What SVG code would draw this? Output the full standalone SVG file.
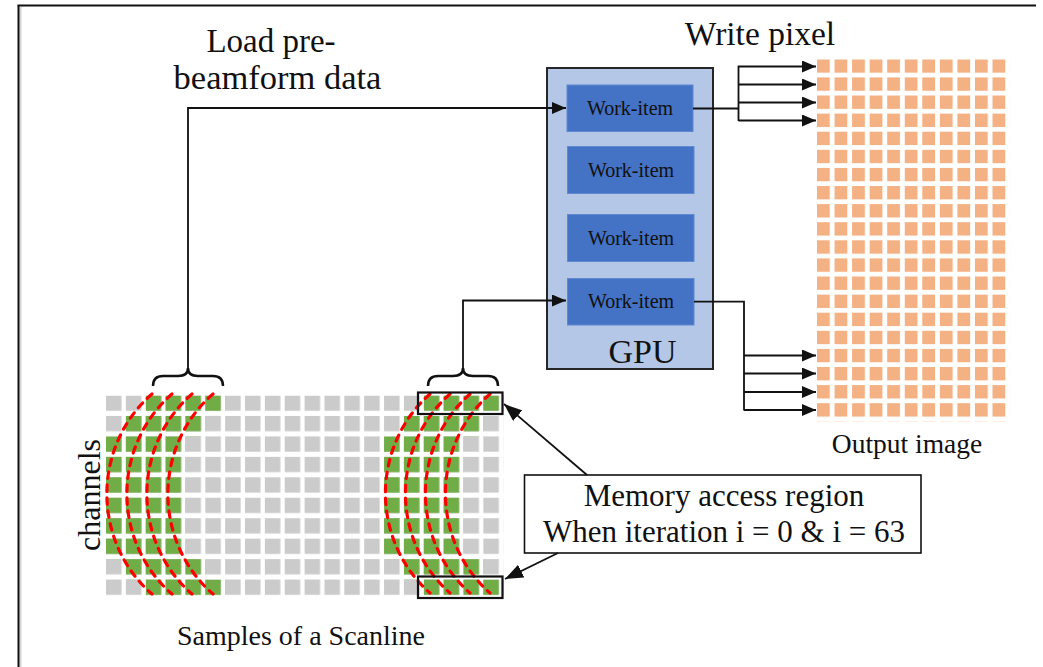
<svg xmlns="http://www.w3.org/2000/svg" width="1043" height="667" viewBox="0 0 1043 667">
  <style>
    .t { font-family: "Liberation Serif", "Times New Roman", serif; fill: #111; }
    .wi { fill: #4472c4; stroke: #5f88d0; stroke-width: 1; }
    .wl { font-family: "Liberation Serif", "Times New Roman", serif; font-size: 20px; fill: #111; text-anchor: middle; }
    .ln { fill: none; stroke: #111; stroke-width: 1.8; }
    .arc { fill: none; stroke: #ff0000; stroke-width: 3.2; stroke-dasharray: 6.5 6.5; stroke-linecap: round; }
    .brace { fill: none; stroke: #111; stroke-width: 2.5; }
    .box { fill: none; stroke: #111; stroke-width: 2.2; }
  </style>
  <defs>
    <!-- sample grid tiles -->
    <pattern id="cellGray" patternUnits="userSpaceOnUse" x="106" y="395.5" width="19.86" height="20.45">
      <rect x="0" y="0" width="15.5" height="15.3" fill="#cbcbcb"/>
    </pattern>
    <pattern id="cellGreen" patternUnits="userSpaceOnUse" x="106" y="395.5" width="19.86" height="20.45">
      <rect x="0" y="0" width="15.5" height="15.3" fill="#70ad47"/>
    </pattern>
    <!-- output image tiles -->
    <pattern id="cellOrange" patternUnits="userSpaceOnUse" x="817" y="59.3" width="17.55" height="18.1">
      <rect x="0" y="0" width="12.8" height="13.4" fill="#f4b183"/>
    </pattern>
    <marker id="arr" markerUnits="userSpaceOnUse" viewBox="0 0 14 12" markerWidth="14" markerHeight="12" refX="14" refY="6" orient="auto">
      <path d="M0,0 L14,6 L0,12 z" fill="#111"/>
    </marker>
    <marker id="arrBig" markerUnits="userSpaceOnUse" viewBox="0 0 18 14" markerWidth="18" markerHeight="14" refX="18" refY="7" orient="auto">
      <path d="M0,0 L18,7 L0,14 z" fill="#111"/>
    </marker>
  </defs>

  <rect width="1043" height="667" fill="#ffffff"/>

  <!-- frame -->
  <g id="frame">
    <line x1="20.5" y1="7" x2="20.5" y2="667" stroke="#d4d4d4" stroke-width="2"/>
    <line x1="18.5" y1="5.5" x2="18.5" y2="667" stroke="#111" stroke-width="2"/>
    <line x1="17.5" y1="5.5" x2="1036" y2="5.5" stroke="#111" stroke-width="2"/>
  </g>

  <!-- samples of a scanline -->
  <g id="samples">
    <rect x="106" y="395.5" width="397.2" height="204.5" fill="url(#cellGray)"/>
    <!-- first access window -->
    <rect x="145.72" y="395.5" width="79.44" height="20.45" fill="url(#cellGreen)"/>
    <rect x="125.86" y="415.95" width="79.44" height="20.45" fill="url(#cellGreen)"/>
    <rect x="106" y="436.4" width="79.44" height="122.7" fill="url(#cellGreen)"/>
    <rect x="125.86" y="559.1" width="79.44" height="20.45" fill="url(#cellGreen)"/>
    <rect x="145.72" y="579.55" width="79.44" height="20.45" fill="url(#cellGreen)"/>
    <!-- second access window -->
    <rect x="423.76" y="395.5" width="79.44" height="20.45" fill="url(#cellGreen)"/>
    <rect x="403.9" y="415.95" width="79.44" height="20.45" fill="url(#cellGreen)"/>
    <rect x="384.04" y="436.4" width="79.44" height="122.7" fill="url(#cellGreen)"/>
    <rect x="403.9" y="559.1" width="79.44" height="20.45" fill="url(#cellGreen)"/>
    <rect x="423.76" y="579.55" width="79.44" height="20.45" fill="url(#cellGreen)"/>
    <!-- delay curves -->
    <path class="arc" d="M152 394 A125 130 0 0 0 152 594"/>
    <path class="arc" d="M172 394 A125 130 0 0 0 172 594"/>
    <path class="arc" d="M192 394 A125 130 0 0 0 192 594"/>
    <path class="arc" d="M213 394 A125 130 0 0 0 213 594"/>
    <path class="arc" d="M430 394 A125 130 0 0 0 430 593"/>
    <path class="arc" d="M450 394 A125 130 0 0 0 450 593"/>
    <path class="arc" d="M470 394 A125 130 0 0 0 470 593"/>
    <path class="arc" d="M490 394 A125 130 0 0 0 490 593"/>
    <!-- memory access regions -->
    <rect class="box" x="418" y="392.5" width="84.5" height="21.5"/>
    <rect class="box" x="418" y="576.5" width="84.5" height="21.5"/>
    <!-- braces -->
    <path class="brace" d="M153 386 Q153 376 163 376 L178 376 Q188 376 188 368 Q188 376 198 376 L213 376 Q223 376 223 386"/>
    <path class="brace" d="M428 386 Q428 376 438 376 L453 376 Q463 376 463 368 Q463 376 473 376 L488 376 Q498 376 498 386"/>
    <text class="t" font-size="32" text-anchor="middle" transform="translate(100,495) rotate(-90)">channels</text>
    <text class="t" font-size="28" x="301" y="645" text-anchor="middle">Samples of a Scanline</text>
  </g>

  <!-- GPU -->
  <g id="gpu">
    <rect x="547" y="68" width="166" height="301" fill="#b4c7e7" stroke="#262626" stroke-width="2"/>
    <text class="t" font-size="34" x="642.5" y="363" text-anchor="middle">GPU</text>
  </g>
  <g id="work-item-1">
    <rect class="wi" x="567" y="85" width="126" height="46.5"/>
    <text class="wl" x="630" y="114.5">Work-item</text>
  </g>
  <g id="work-item-2">
    <rect class="wi" x="567.5" y="146.5" width="126.5" height="47"/>
    <text class="wl" x="631" y="176.5">Work-item</text>
  </g>
  <g id="work-item-3">
    <rect class="wi" x="567.5" y="214.5" width="126.5" height="47"/>
    <text class="wl" x="631" y="244.5">Work-item</text>
  </g>
  <g id="work-item-4">
    <rect class="wi" x="567.5" y="278.5" width="126.5" height="46.5"/>
    <text class="wl" x="631" y="308">Work-item</text>
  </g>

  <!-- output image -->
  <g id="output-image">
    <rect x="817" y="59.3" width="193.05" height="362" fill="url(#cellOrange)"/>
    <text class="t" font-size="27.5" x="907" y="453" text-anchor="middle">Output image</text>
  </g>

  <!-- labels -->
  <g id="load-label">
    <text class="t" font-size="33" x="271" y="52" text-anchor="middle">Load pre-</text>
    <text class="t" font-size="34.5" x="277.5" y="89" text-anchor="middle">beamform data</text>
  </g>
  <g id="write-label">
    <text class="t" font-size="33.5" x="760" y="45" text-anchor="middle">Write pixel</text>
  </g>
  <g id="memory-note">
    <rect x="524.5" y="475" width="396.5" height="78" fill="#ffffff" stroke="#111" stroke-width="1.6"/>
    <text class="t" font-size="31" x="724" y="506" text-anchor="middle">Memory access region</text>
    <text class="t" font-size="31" x="724" y="542" text-anchor="middle">When iteration i = 0 &amp; i = 63</text>
  </g>

  <!-- connectors -->
  <g id="connectors">
    <path class="ln" d="M188 368 V108 H566" marker-end="url(#arr)"/>
    <path class="ln" d="M463 368 V300.5 H566" marker-end="url(#arr)"/>
    <path class="ln" d="M693 108.5 H738.5"/>
    <path class="ln" d="M738.5 65.7 V121"/>
    <path class="ln" d="M738.5 66.5 H816" marker-end="url(#arr)"/>
    <path class="ln" d="M738.5 84.5 H816" marker-end="url(#arr)"/>
    <path class="ln" d="M738.5 102.5 H816" marker-end="url(#arr)"/>
    <path class="ln" d="M738.5 120.5 H816" marker-end="url(#arr)"/>
    <path class="ln" d="M694 301.7 H744 V410.5"/>
    <path class="ln" d="M744 355.5 H816" marker-end="url(#arr)"/>
    <path class="ln" d="M744 373.5 H816" marker-end="url(#arr)"/>
    <path class="ln" d="M744 392 H816" marker-end="url(#arr)"/>
    <path class="ln" d="M744 410 H816" marker-end="url(#arr)"/>
    <path class="ln" d="M587 475 L504 404" marker-end="url(#arrBig)"/>
    <path class="ln" d="M558 553 L505 579" marker-end="url(#arrBig)"/>
  </g>
</svg>
